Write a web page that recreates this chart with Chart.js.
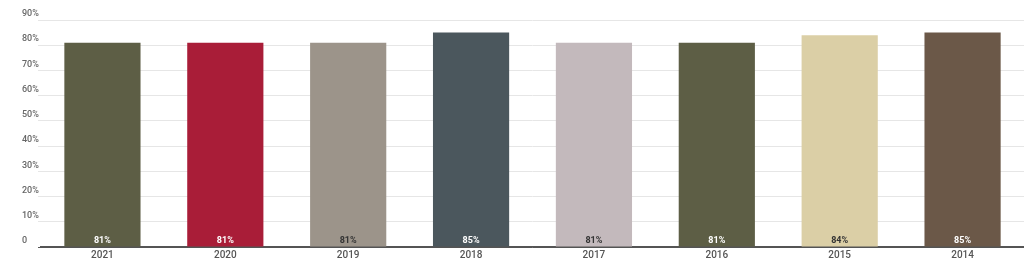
<!DOCTYPE html>
<html>
<head>
<meta charset="utf-8">
<script src="https://cdn.jsdelivr.net/npm/chart.js@4"></script>
<style>
  html, body { margin: 0; padding: 0; background: #fff; }
  #wrap { width: 1024px; height: 265px; }
</style>
</head>
<body>
<div id="wrap"><canvas id="grafico"></canvas></div>
<script>
const anios = ["2021", "2020", "2019", "2018", "2017", "2016", "2015", "2014"];
const valores = [81, 81, 81, 85, 81, 81, 84, 85];
const colores = ["#5d5e45", "#a91d38", "#9c948a", "#4b575d", "#c3b9bc", "#5d5e45", "#dbcfa6", "#6b5848"];
const coloresTexto = ["#ffffff", "#ffffff", "#333333", "#ffffff", "#333333", "#ffffff", "#333333", "#ffffff"];

// etiquetas de valor al pie de cada barra
const etiquetasBarra = {
  id: "etiquetasBarra",
  afterDatasetsDraw(chart) {
    const ctx = chart.ctx;
    const meta = chart.getDatasetMeta(0);
    const y0 = chart.scales.y.getPixelForValue(0);
    ctx.save();
    ctx.font = "bold 9px Roboto";
    ctx.textAlign = "center";
    ctx.textBaseline = "middle";
    meta.data.forEach((bar, i) => {
      ctx.fillStyle = coloresTexto[i];
      ctx.fillText(valores[i] + "%", bar.x, y0 - 6);
    });
    ctx.restore();
  }
};

new Chart(document.getElementById("grafico"), {
  type: "bar",
  data: {
    labels: anios,
    datasets: [{
      data: valores,
      backgroundColor: colores,
      barPercentage: 0.62,
      categoryPercentage: 1
    }]
  },
  options: {
    responsive: true,
    maintainAspectRatio: false,
    animation: false,
    layout: { padding: { left: 22, right: 0, top: 20, bottom: 0 } },
    plugins: { legend: { display: false }, tooltip: { enabled: false } },
    scales: {
      x: {
        afterFit: s => { s.height = 18; },
        grid: { display: false, drawTicks: false },
        border: { color: "#555555", width: 1.5 },
        ticks: { color: "#555555", font: { family: "Roboto", size: 10, weight: "500" }, padding: 2 }
      },
      y: {
        min: 0,
        max: 90,
        afterFit: s => { s.width = 19; },
        grid: {
          color: c => c.tick.value === 0 ? "#555555" : "#e6e6e6",
          tickLength: 3
        },
        border: { display: false },
        ticks: {
          stepSize: 10,
          crossAlign: "far",
          labelOffset: -6,
          padding: 0,
          color: "#666666",
          font: { family: "Roboto", size: 9, weight: "500" },
          callback: v => v === 0 ? "0" : v + "%"
        }
      }
    }
  },
  plugins: [etiquetasBarra]
});
</script>
</body>
</html>
